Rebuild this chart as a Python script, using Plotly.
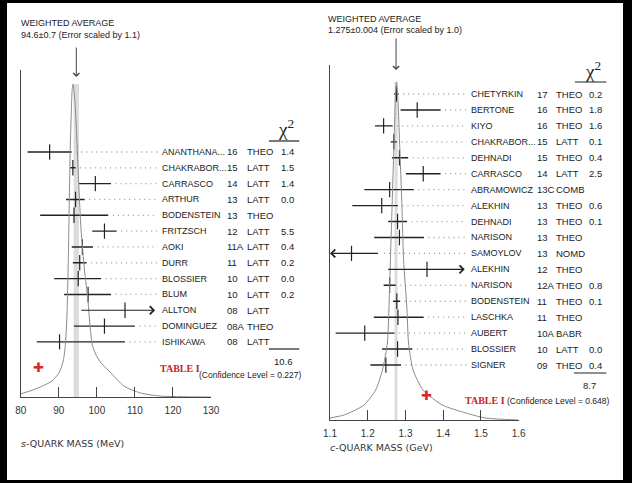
import plotly.graph_objects as go

W, H = 632, 483
ML, MT, MR, MB = 4, 3, 0, 3  # black frame drawn as the paper margin

# ---------------- s-quark panel data ----------------
s_names = ["ANANTHANA...", "CHAKRABOR...", "CARRASCO", "ARTHUR", "BODENSTEIN", "FRITZSCH",
           "AOKI", "DURR", "BLOSSIER", "BLUM", "ALLTON", "DOMINGUEZ", "ISHIKAWA"]
s_years = ["16", "15", "14", "13", "13", "12", "11A", "11", "10", "10", "08", "08A", "08"]
s_types = ["THEO", "LATT", "LATT", "LATT", "THEO", "LATT", "LATT", "LATT", "LATT", "LATT",
           "LATT", "THEO", "LATT"]
s_chi2 = ["1.4", "1.5", "1.4", "0.0", "", "5.5", "0.4", "0.2", "0.0", "0.2", "", "", ""]
s_val = [87.6, 93.7, 99.6, 94.4, 94.0, 102.0, 96.2, 95.5, 95.1, 97.7, 107.4, 102.0, 90.2]
s_em = [5.8, 0.7, 4.3, 2.5, 8.9, 3.2, 2.8, 1.8, 6.3, 6.3, 11.9, 8.0, 6.0]
s_ep = [5.8, 0.7, 4.1, 2.4, 9.0, 3.2, 2.8, 1.8, 6.0, 6.0, 11.9, 8.0, 17.2]
s_avg, s_avg_err = 94.6, 0.7
s_ticks = [80, 90, 100, 110, 120, 130]
s_chi2_sum, s_cl = "10.6", "(Confidence Level = 0.227)"
s_avg_text = ["WEIGHTED AVERAGE", "94.6±0.7 (Error scaled by 1.1)"]
# ideogram (mass, relative height)
s_curve_x = [80.0, 83.1, 85.7, 88.2, 90.05, 91.1, 91.6, 92.1, 92.5, 92.76, 93.0, 93.3, 93.5, 93.7,
             93.9, 94.3, 94.7, 95.2, 95.85, 96.75, 97.65, 98.3, 98.8, 99.8, 101.1, 103.7, 107.1,
             111.4, 116.6, 130.0]
s_curve_h = [0.010, 0.022, 0.035, 0.051, 0.077, 0.112, 0.150, 0.246, 0.438, 0.63, 0.79, 0.917,
             0.98, 1.0, 0.987, 0.933, 0.837, 0.693, 0.534, 0.406, 0.31, 0.214, 0.166, 0.134,
             0.109, 0.077, 0.035, 0.013, 0.003, 0.0]

# ---------------- c-quark panel data ----------------
c_names = ["CHETYRKIN", "BERTONE", "KIYO", "CHAKRABOR...", "DEHNADI", "CARRASCO", "ABRAMOWICZ",
           "ALEKHIN", "DEHNADI", "NARISON", "SAMOYLOV", "ALEKHIN", "NARISON", "BODENSTEIN",
           "LASCHKA", "AUBERT", "BLOSSIER", "SIGNER"]
c_years = ["17", "16", "16", "15", "15", "14", "13C", "13", "13", "13", "13", "12", "12A", "11",
           "11", "10A", "10", "09"]
c_types = ["THEO", "THEO", "THEO", "LATT", "THEO", "LATT", "COMB", "THEO", "THEO", "THEO", "NOMD",
           "THEO", "THEO", "THEO", "THEO", "BABR", "LATT", "THEO"]
c_chi2 = ["0.2", "1.8", "1.6", "0.1", "0.4", "2.5", "", "0.6", "0.1", "", "", "", "0.8", "0.1",
          "", "", "0.0", "0.4"]
c_val = [1.276, 1.331, 1.242, 1.269, 1.284, 1.347, 1.258, 1.237, 1.279, 1.284, 1.157, 1.357,
         1.258, 1.277, 1.280, 1.192, 1.279, 1.248]
c_em = [0.006, 0.044, 0.023, 0.008, 0.020, 0.046, 0.067, 0.078, 0.025, 0.067, 0.074, 0.107,
        0.016, 0.010, 0.064, 0.077, 0.041, 0.041]
c_ep = [0.006, 0.062, 0.024, 0.008, 0.023, 0.046, 0.064, 0.043, 0.025, 0.065, 0.074, 0.110,
        0.016, 0.009, 0.068, 0.079, 0.039, 0.040]
c_avg, c_avg_err = 1.275, 0.004
c_ticks = [1.1, 1.2, 1.3, 1.4, 1.5, 1.6]
c_chi2_sum, c_cl = "8.7", "(Confidence Level = 0.648)"
c_avg_text = ["WEIGHTED AVERAGE", "1.275±0.004 (Error scaled by 1.0)"]
c_curve_x = [1.100, 1.138, 1.190, 1.221, 1.239, 1.252, 1.256, 1.260, 1.265, 1.269, 1.273, 1.276,
             1.280, 1.285, 1.290, 1.295, 1.304, 1.308, 1.320, 1.346, 1.398, 1.459, 1.511, 1.598]
c_curve_h = [0.006, 0.015, 0.044, 0.089, 0.148, 0.228, 0.325, 0.473, 0.651, 0.80, 0.947, 1.0,
             0.947, 0.80, 0.651, 0.473, 0.325, 0.228, 0.148, 0.089, 0.044, 0.021, 0.006, 0.0]

# ---------------- styling / layout helpers ----------------
SANS = "Liberation Sans, Arial, sans-serif"
TXT = "#222222"
AX = "#444444"
PW, PH = W - ML - MR, H - MT - MB


def fx(p):
    return (p - ML) / PW


def fy(p):
    return 1 - (p - MT) / PH


fig = go.Figure()
annotations = []
# white interior over the black paper -> black frame in the margins
shapes = [dict(type="rect", xref="paper", yref="paper", x0=0, x1=1, y0=0, y1=1,
               fillcolor="white", line=dict(width=0), layer="below")]


def panel(xref, ya, ya2, names, years, types, chi2, val, em, ep, avg, avg_err, curve_x, curve_h,
          avg_text, xmin, clip, lead_end, gap, col_px, avg_arrow_px, avg_text_px, chi_hdr,
          sum_px, chi_sum, cl, table_px, cross_px, xtitle, xtitle_px):
    # ideogram curve
    fig.add_trace(go.Scatter(x=curve_x, y=curve_h, xaxis=xref, yaxis=ya2, mode="lines",
                             line=dict(color="#8a8a8a", width=1, shape="spline", smoothing=0.6),
                             hoverinfo="skip", showlegend=False))
    # band
    shapes.append(dict(type="rect", xref=xref, yref=ya2, x0=avg - avg_err, x1=avg + avg_err,
                       y0=0, y1=1.0, fillcolor="#dcdcdc", line=dict(width=0), layer="below"))
    bx, by, lx, ly = [], [], [], []
    for r, (v, m, p) in enumerate(zip(val, em, ep)):
        lo, hi = v - m, v + p
        if lo < xmin or hi > clip:
            a0 = max(lo, xmin)
            a1 = min(hi, clip)
            if hi > clip:
                tip, tail = a1, a0
            else:
                tip, tail = a0, a1
            annotations.append(dict(x=tip, y=r, xref=xref, yref=ya, ax=tail, ay=r,
                                    axref=xref, ayref=ya, showarrow=True, arrowhead=4,
                                    arrowsize=1.3, arrowwidth=1.2, arrowcolor=TXT, text=""))
            if hi <= clip:
                lx += [hi + gap, lead_end, None]
                ly += [r, r, None]
        else:
            bx += [lo, hi, None]
            by += [r, r, None]
            lx += [hi + gap, lead_end, None]
            ly += [r, r, None]
    fig.add_trace(go.Scatter(x=lx, y=ly, xaxis=xref, yaxis=ya, mode="lines",
                             line=dict(color="#9a9a9a", width=1.3, dash="1px,4px"),
                             hoverinfo="skip", showlegend=False))
    fig.add_trace(go.Scatter(x=bx, y=by, xaxis=xref, yaxis=ya, mode="lines",
                             line=dict(color=TXT, width=1.4), hoverinfo="skip", showlegend=False))
    fig.add_trace(go.Scatter(x=val, y=list(range(len(val))), xaxis=xref, yaxis=ya, mode="markers",
                             marker=dict(symbol="line-ns", size=11,
                                         line=dict(color=TXT, width=1.2)),
                             hoverinfo="skip", showlegend=False))
    # row labels
    sizes = [9, 9.5, 9.5, 9.5]
    for r in range(len(names)):
        for txt, cx, sz in zip([names[r], years[r], types[r], chi2[r]], col_px, sizes):
            if txt:
                annotations.append(dict(x=fx(cx), y=r, xref="paper", yref=ya, text=txt,
                                        showarrow=False, xanchor="left", yanchor="middle",
                                        font=dict(family=SANS, size=sz, color=TXT)))
    # weighted average arrow
    ay0, ay1 = avg_arrow_px
    annotations.append(dict(x=avg, y=fy(ay1), xref=xref, yref="paper", ax=0, ay=-(ay1 - ay0),
                            showarrow=True, arrowhead=4, arrowsize=1.2, arrowwidth=1,
                            arrowcolor="#444", text=""))
    tx, ty1, ty2 = avg_text_px
    for t, yy in zip(avg_text, [ty1, ty2]):
        annotations.append(dict(x=fx(tx), y=fy(yy), xref="paper", yref="paper", text=t,
                                showarrow=False, xanchor="left", yanchor="middle",
                                font=dict(family=SANS, size=9, color=TXT)))
    # chi2 header
    hx, hy, ux0, ux1, uy = chi_hdr
    annotations.append(dict(x=fx(hx), y=fy(hy), xref="paper", yref="paper",
                            text="χ<sup>2</sup>", showarrow=False, xanchor="center",
                            yanchor="middle", font=dict(family="Liberation Serif", size=19,
                                                        color=TXT)))
    shapes.append(dict(type="line", xref="paper", yref="paper", x0=fx(ux0), x1=fx(ux1),
                       y0=fy(uy), y1=fy(uy), line=dict(color=TXT, width=1.2)))
    sx0, sx1, sy, nx, ny, clx, cly = sum_px
    shapes.append(dict(type="line", xref="paper", yref="paper", x0=fx(sx0), x1=fx(sx1),
                       y0=fy(sy), y1=fy(sy), line=dict(color=TXT, width=1.2)))
    annotations.append(dict(x=fx(nx), y=fy(ny), xref="paper", yref="paper", text=chi_sum,
                            showarrow=False, xanchor="center", yanchor="middle",
                            font=dict(family=SANS, size=9.5, color=TXT)))
    annotations.append(dict(x=fx(clx), y=fy(cly), xref="paper", yref="paper", text=cl,
                            showarrow=False, xanchor="center", yanchor="middle",
                            font=dict(family=SANS, size=8.5, color=TXT)))
    tbx, tby = table_px
    annotations.append(dict(x=fx(tbx), y=fy(tby), xref="paper", yref="paper",
                            text="<b>TABLE I</b>", showarrow=False, xanchor="center",
                            yanchor="middle",
                            font=dict(family="Liberation Serif", size=10, color="#cc2222")))
    crx, cry = cross_px
    annotations.append(dict(x=fx(crx), y=fy(cry), xref="paper", yref="paper",
                            text="✚", showarrow=False, xanchor="center", yanchor="middle",
                            font=dict(family="DejaVu Sans", size=13, color="#d42a2a")))
    xtx, xty = xtitle_px
    annotations.append(dict(x=fx(xtx), y=fy(xty), xref="paper", yref="paper", text=xtitle,
                            showarrow=False, xanchor="left", yanchor="middle",
                            font=dict(family="DejaVu Sans", size=9.5, color="#333")))


panel("x", "y", "y2", s_names, s_years, s_types, s_chi2, s_val, s_em, s_ep, s_avg, s_avg_err,
      s_curve_x, s_curve_h, s_avg_text, xmin=80, clip=115.3, lead_end=116.0, gap=1.2,
      col_px=[160, 226, 247, 281], avg_arrow_px=(46, 77), avg_text_px=(16, 23, 35),
      chi_hdr=(288, 128, 271, 302, 141), sum_px=(271, 302, 349, 286, 361, 252, 375),
      chi_sum=s_chi2_sum, cl=s_cl, table_px=(180, 368), cross_px=(36, 367),
      xtitle="<i>s</i>-QUARK MASS (MeV)", xtitle_px=(16, 443))

panel("x3", "y3", "y4", c_names, c_years, c_types, c_chi2, c_val, c_em, c_ep, c_avg, c_avg_err,
      c_curve_x, c_curve_h, c_avg_text, xmin=1.1, clip=1.457, lead_end=1.462, gap=0.012,
      col_px=[475, 542, 562, 595], avg_arrow_px=(37, 70), avg_text_px=(329, 19, 30),
      chi_hdr=(601, 70, 583, 615, 82), sum_px=(582, 615, 373, 598, 385, 566, 401),
      chi_sum=c_chi2_sum, cl=c_cl, table_px=(491, 400), cross_px=(432, 395),
      xtitle="<i>c</i>-QUARK MASS (GeV)", xtitle_px=(331, 447))

xcommon = dict(showline=True, linecolor=AX, linewidth=1.3, ticks="inside", ticklen=10,
               tickcolor=AX, tickwidth=1.2, showgrid=False, zeroline=False,
               tickfont=dict(family=SANS, size=10, color="#333"), ticklabelstandoff=4)
ycommon = dict(showline=True, linecolor=AX, linewidth=1.3, showticklabels=False, ticks="",
               showgrid=False, zeroline=False)

fig.update_layout(
    width=W, height=H, margin=dict(l=ML, r=MR, t=MT, b=MB, pad=0),
    paper_bgcolor="black", plot_bgcolor="rgba(0,0,0,0)", showlegend=False,
    xaxis=dict(domain=[fx(18), fx(212)], range=[80, 130], tickvals=s_ticks, anchor="y",
               **xcommon),
    yaxis=dict(domain=[fy(397), fy(70)], range=[15.48, -5.18], anchor="x", **ycommon),
    yaxis2=dict(overlaying="y", range=[0, 1.045], visible=False, anchor="x"),
    xaxis3=dict(domain=[fx(333.3), fx(525.7)], range=[1.1, 1.6], tickvals=c_ticks,
                anchor="y3", **xcommon),
    yaxis3=dict(domain=[fy(420), fy(65)], range=[20.45, -1.82], anchor="x3", **ycommon),
    yaxis4=dict(overlaying="y3", range=[0, 1.05], visible=False, anchor="x3"),
    annotations=annotations, shapes=shapes,
)

fig.write_html("out.html", config={"displayModeBar": False},
               post_script="document.body.style.margin='0';")
